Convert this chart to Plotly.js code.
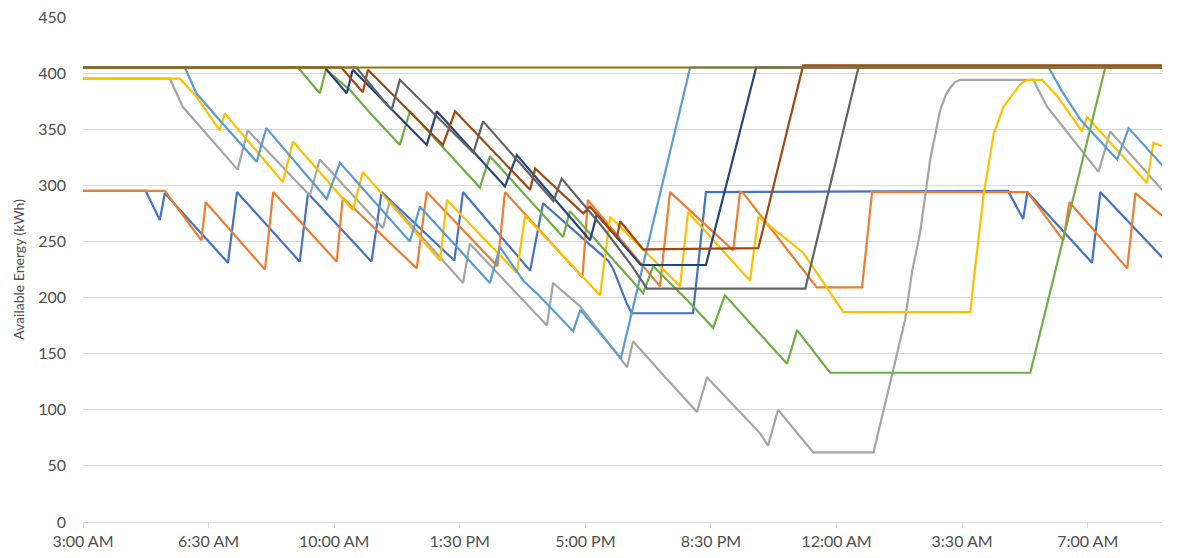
<!DOCTYPE html>
<html>
<head>
<meta charset="utf-8">
<script src="https://cdn.plot.ly/plotly-3.0.1.min.js"></script>
<style>html,body{margin:0;padding:0;background:#fff;}#chart{width:1194px;height:558px;}</style>
</head>
<body>
<div id="chart"></div>
<script>
// Times are clock hours counted from midnight of day 1 (e.g. 27 = 3:00 AM next day)
const tickHours  = [3, 6.5, 10, 13.5, 17, 20.5, 24, 27.5, 31];
const tickLabels = ['3:00 AM','6:30 AM','10:00 AM','1:30 PM','5:00 PM','8:30 PM','12:00 AM','3:30 AM','7:00 AM'];

const blueT = [3, 4.75, 5.14, 5.28, 7.04, 7.29, 9.04, 9.27, 11.04, 11.32, 13.35, 13.59, 15.46, 15.82, 17.63, 17.77, 18.15, 18.29, 20.00, 20.36, 28.78, 29.20, 29.32, 31.12, 31.35, 33.07];
const blueV = [295, 295, 269, 293, 231, 294, 232, 293, 232, 294, 233, 294, 224, 284, 233, 226, 195, 186, 186, 294, 295, 270, 294, 231, 294, 236];

const orangeT = [3, 5.28, 6.30, 6.42, 8.07, 8.30, 10.07, 10.24, 12.30, 12.58, 14.55, 14.76, 16.92, 17.07, 19.08, 19.36, 21.12, 21.31, 21.40, 23.45, 24.71, 24.99, 29.32, 30.32, 30.49, 32.10, 32.33, 33.07];
const orangeV = [295, 295, 251, 285, 225, 294, 232, 289, 226, 294, 228, 294, 218, 287, 210, 294, 242, 294, 293, 209, 209, 294, 294, 251, 285, 226, 293, 273];

const grayT = [3, 5.42, 5.78, 7.31, 7.59, 9.32, 9.60, 11.36, 11.55, 13.59, 13.78, 15.93, 16.10, 16.86, 18.16, 18.33, 19.17, 20.11, 20.39, 21.87, 22.09, 22.37, 23.35, 25.03, 25.91, 26.11, 26.33, 26.61, 26.89, 27.05, 27.17, 27.30, 27.45, 29.48, 29.87, 31.30, 31.63, 33.07];
const grayV = [395, 395, 370, 314, 349, 291, 323, 262, 286, 213, 248, 175, 213, 192, 138, 161, 131, 98, 129, 79, 68, 100, 62, 62, 180, 224, 258, 323, 367, 381, 387, 392, 394, 394, 370, 312, 348, 296];

const yellowT = [3, 5.70, 6.16, 6.81, 6.95, 8.57, 8.85, 10.52, 10.80, 12.95, 13.14, 15.09, 15.32, 17.41, 17.69, 19.64, 19.86, 21.59, 21.82, 23.07, 24.19, 27.73, 27.82, 28.10, 28.38, 28.65, 28.93, 29.12, 29.31, 29.73, 30.16, 30.81, 30.84, 30.98, 32.65, 32.83, 33.07];
const yellowV = [395, 395, 379, 349, 364, 303, 339, 278, 312, 233, 287, 222, 273, 202, 272, 210, 276, 215, 272, 240, 187, 187, 215, 292, 346, 370, 382, 390, 394, 394, 379, 350, 348, 361, 302, 338, 335];

const lightBlueT = [3, 5.84, 6.16, 6.81, 7.84, 8.11, 9.79, 10.16, 12.11, 12.39, 14.34, 14.62, 15.27, 15.64, 16.66, 16.86, 17.99, 19.92, 29.91, 30.28, 30.81, 31.82, 32.14, 33.07];
const lightBlueV = [405, 405, 382, 358, 321, 351, 288, 320, 250, 281, 213, 245, 215, 204, 170, 189, 146, 405, 405, 384, 358, 323, 351, 318];

const greenT = [3, 8.99, 9.60, 9.77, 10.44, 10.99, 11.83, 12.11, 14.06, 14.34, 16.38, 16.57, 18.61, 18.89, 19.83, 20.56, 20.89, 22.62, 22.90, 23.82, 29.40, 31.49, 33.07];
const greenV = [405, 405, 382, 403, 385, 365, 336, 366, 298, 326, 254, 277, 204, 228, 198, 173, 202, 141, 171, 133, 133, 405, 405];

const darkBlueT = [3, 9.74, 10.35, 10.52, 12.58, 12.86, 14.76, 15.09, 17.13, 17.32, 18.55, 20.36, 21.76, 33.07];
const darkBlueV = [405, 405, 382, 403, 336, 366, 299, 327, 251, 274, 229, 229, 405, 405];

const brownT = [3, 10.20, 10.80, 10.94, 13.03, 13.37, 15.46, 15.60, 16.94, 17.13, 17.88, 17.97, 18.61, 21.82, 23.07, 33.07];
const brownV = [405, 405, 383, 403, 336, 366, 296, 315, 275, 281, 254, 268, 243, 244, 407, 407];

const darkGrayT = [3, 10.62, 11.60, 11.83, 13.88, 14.15, 16.11, 16.34, 17.50, 18.30, 18.72, 23.13, 24.61, 33.07];
const darkGrayV = [405, 405, 367, 394, 329, 357, 286, 306, 262, 228, 208, 208, 405, 405];

const oliveT = [3, 33.07];
const oliveV = [405, 405];

function toDate(h) {
  const d = new Date(Date.UTC(2021, 0, 1) + Math.round(h * 3600000));
  return d.toISOString().slice(0, 19).replace('T', ' ');
}

const seriesDefs = [
  [blueT, blueV, '#4472C4'],
  [orangeT, orangeV, '#ED7D31'],
  [grayT, grayV, '#A5A5A5'],
  [yellowT, yellowV, '#FFC000'],
  [lightBlueT, lightBlueV, '#5B9BD5'],
  [greenT, greenV, '#70AD47'],
  [darkBlueT, darkBlueV, '#264478'],
  [brownT, brownV, '#9E480E'],
  [darkGrayT, darkGrayV, '#636363'],
  [oliveT, oliveV, '#997300']
];

const traces = seriesDefs.map(([t, v, c]) => ({
  type: 'scatter',
  mode: 'lines',
  x: t.map(toDate),
  y: v,
  line: {color: c, width: 2.2},
  hoverinfo: 'skip'
}));

const fontFam = 'Lato, "Open Sans", sans-serif';
const layout = {
  width: 1194,
  height: 558,
  margin: {l: 83, r: 32, t: 17, b: 36},
  paper_bgcolor: '#ffffff',
  plot_bgcolor: '#ffffff',
  showlegend: false,
  font: {family: fontFam, color: '#505050'},
  xaxis: {
    type: 'date',
    range: [toDate(3), toDate(33.07)],
    tickvals: tickHours.map(toDate),
    ticktext: tickLabels,
    showgrid: false,
    zeroline: false,
    showline: true,
    linecolor: '#D9D9D9',
    linewidth: 1,
    ticks: 'outside',
    ticklen: 5,
    tickcolor: '#D9D9D9',
    tickfont: {family: fontFam, size: 16, color: '#505050'}
  },
  yaxis: {
    range: [0, 450],
    tick0: 0,
    dtick: 50,
    showgrid: true,
    gridcolor: '#D9D9D9',
    gridwidth: 1,
    zeroline: false,
    showline: false,
    ticks: '',
    ticklabelstandoff: 16,
    tickfont: {family: fontFam, size: 16, color: '#505050'},
    title: {text: 'Available Energy (kWh)', font: {family: fontFam, size: 14, color: '#505050'}, standoff: 10}
  }
};

Plotly.newPlot('chart', traces, layout, {displayModeBar: false, staticPlot: true});
</script>
</body>
</html>
